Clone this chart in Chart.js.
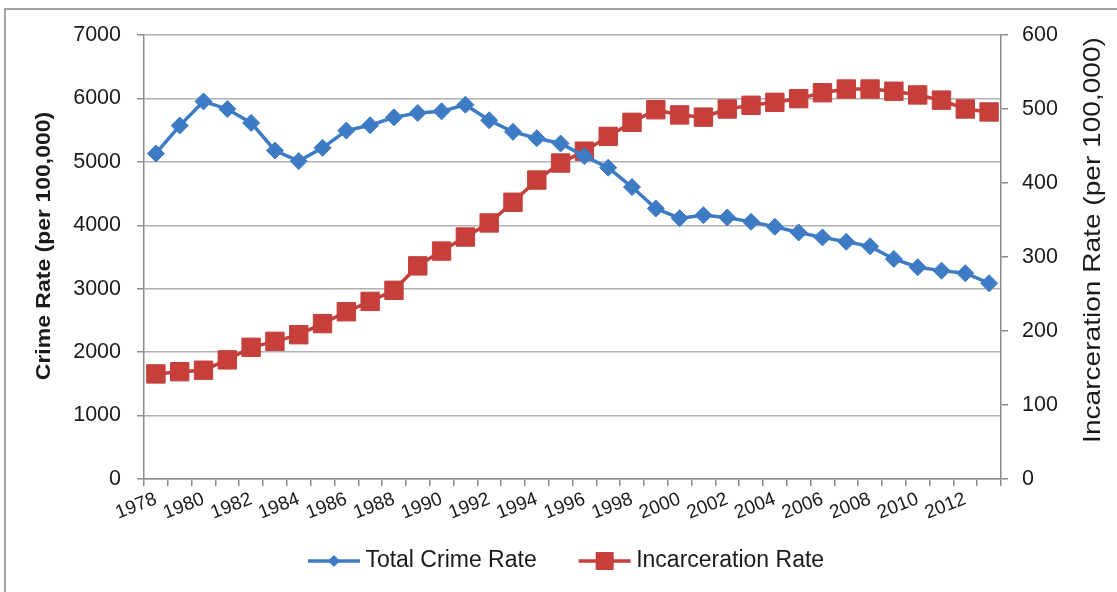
<!DOCTYPE html>
<html>
<head>
<meta charset="utf-8">
<script src="https://cdn.jsdelivr.net/npm/chart.js@4.4.1/dist/chart.umd.min.js"></script>
<style>
  html, body { margin: 0; padding: 0; background: #fff; }
  #wrap { position: relative; width: 1117px; height: 592px; overflow: hidden; }
  #frame { position: absolute; left: 4px; top: 8px; width: 1200px; height: 700px;
           border-left: 2px solid #a3a3a3; border-top: 2px solid #a3a3a3; }
  #chart { position: absolute; left: 0; top: 0; }
</style>
</head>
<body>
<div id="wrap">
  <div id="frame"></div>
  <canvas id="chart" width="1117" height="592"></canvas>
</div>
<script>
// years on the category axis
const years = [];
for (let y = 1978; y <= 2013; y++) years.push(String(y));

// crimes per 100,000 people (left axis)
const crimeRate = [5132, 5572, 5953, 5833, 5614, 5179, 5012, 5221, 5493, 5577,
                   5702, 5770, 5796, 5901, 5655, 5473, 5372, 5289, 5090, 4908,
                   4603, 4264, 4112, 4159, 4123, 4054, 3976, 3887, 3809, 3740,
                   3668, 3469, 3338, 3285, 3244, 3087];

// prisoners per 100,000 people (right axis)
const incarcerationRate = [142, 145, 147, 161, 178, 186, 195, 210, 226, 240,
                           255, 288, 308, 327, 346, 374, 404, 427, 443, 463,
                           482, 499, 492, 489, 500, 505, 509, 514, 522, 527,
                           527, 524, 519, 512, 500, 496];

const seriesNames = ["Total Crime Rate", "Incarceration Rate"];
const leftTitle = "Crime Rate (per 100,000)";
const rightTitle = "Incarceration Rate (per 100,000)";

const blue = "#3d7bc4";
const red = "#c63f3b";
const FONT = '"Liberation Sans", Arial, sans-serif';

// little line+marker pictures for the legend
// (wider than the box so the line sits close to its text)
function legendIcon(color, shape) {
    const c = document.createElement("canvas");
    c.width = 94; c.height = 22;
    const g = c.getContext("2d");
    g.strokeStyle = color;
    g.lineWidth = 3.5;
    g.beginPath();
    g.moveTo(41, 11);
    g.lineTo(93, 11);
    g.stroke();
    g.fillStyle = color;
    const cx = 67, cy = 11;
    if (shape === "diamond") {
        g.beginPath();
        g.moveTo(cx, cy - 6); g.lineTo(cx + 6, cy); g.lineTo(cx, cy + 6); g.lineTo(cx - 6, cy);
        g.closePath();
        g.fill();
    } else {
        g.fillRect(cx - 9, cy - 9, 18, 18);
    }
    return c;
}

// rotated axis titles, both reading bottom to top
const sideTitles = {
    id: "sideTitles",
    afterDraw(chart) {
        const ctx = chart.ctx;
        const area = chart.chartArea;
        const midY = (area.top + area.bottom) / 2 - 11;
        ctx.save();
        ctx.fillStyle = "#1a1a1a";
        ctx.textAlign = "center";
        ctx.textBaseline = "middle";

        ctx.save();
        ctx.translate(chart.scales.y.left + 44, midY);
        ctx.rotate(-Math.PI / 2);
        ctx.scale(1.15, 1);
        ctx.font = "bold 20px " + FONT;
        ctx.fillText(leftTitle, 0, 0);
        ctx.restore();

        ctx.save();
        ctx.translate(chart.scales.y2.left + 92, midY - 6);
        ctx.rotate(-Math.PI / 2);
        ctx.scale(1.17, 1);
        ctx.font = "24px " + FONT;
        ctx.fillText(rightTitle, 0, 0);
        ctx.restore();

        ctx.restore();
    }
};

new Chart(document.getElementById("chart"), {
    type: "line",
    data: {
        labels: years,
        datasets: [
            {
                label: seriesNames[0],
                data: crimeRate,
                yAxisID: "y",
                borderColor: blue,
                backgroundColor: blue,
                borderWidth: 3.5,
                pointStyle: "rectRot",
                pointRadius: 8.5,
                pointBorderWidth: 1,
                pointBackgroundColor: blue,
                pointBorderColor: blue,
                tension: 0
            },
            {
                label: seriesNames[1],
                data: incarcerationRate,
                yAxisID: "y2",
                borderColor: red,
                backgroundColor: red,
                borderWidth: 3.5,
                pointStyle: "rect",
                pointRadius: 13,
                pointBorderWidth: 1,
                pointBackgroundColor: red,
                pointBorderColor: red,
                tension: 0
            }
        ]
    },
    options: {
        responsive: false,
        animation: false,
        devicePixelRatio: 1,
        layout: { padding: { top: 35, left: 0, right: 19, bottom: 9.5 } },
        plugins: {
            tooltip: { enabled: false },
            legend: {
                position: "bottom",
                labels: {
                    usePointStyle: true,
                    pointStyleWidth: 80,
                    padding: 8,
                    color: "#1a1a1a",
                    font: { family: FONT, size: 23 },
                    generateLabels(chart) {
                        return chart.data.datasets.map((ds, i) => ({
                            text: ds.label,
                            pointStyle: legendIcon(ds.borderColor, i === 0 ? "diamond" : "square"),
                            fillStyle: ds.borderColor,
                            strokeStyle: ds.borderColor,
                            lineWidth: 0,
                            fontColor: "#1a1a1a",
                            hidden: false,
                            datasetIndex: i
                        }));
                    }
                }
            }
        },
        scales: {
            x: {
                offset: true,
                grid: { display: true, drawOnChartArea: false, offset: true,
                        color: "#8c8c8c", tickLength: 7, lineWidth: 1.5 },
                border: { color: "#8c8c8c", width: 1.5 },
                ticks: {
                    autoSkip: false,
                    minRotation: 21,
                    maxRotation: 21,
                    padding: 2,
                    color: "#1a1a1a",
                    font: { family: FONT, size: 19 },
                    callback(val, i) { return i % 2 === 0 ? years[i] : ""; }
                },
                afterFit(scale) { scale.height = 62.5; }
            },
            y: {
                position: "left",
                min: 0, max: 7000,
                grid: { color: "#b0b0b0", lineWidth: 1.5, tickLength: 7,
                        tickColor: "#8c8c8c" },
                border: { color: "#8c8c8c", width: 1.5 },
                ticks: {
                    stepSize: 1000,
                    padding: 16,
                    color: "#1a1a1a",
                    font: { family: FONT, size: 21.5 },
                    callback(v) { return String(v); }
                },
                afterFit(scale) { scale.width = 144; }
            },
            y2: {
                position: "right",
                min: 0, max: 600,
                grid: { drawOnChartArea: false, tickLength: 7, color: "#8c8c8c", lineWidth: 1.5 },
                border: { color: "#8c8c8c", width: 1.5 },
                ticks: {
                    stepSize: 100,
                    padding: 14,
                    color: "#1a1a1a",
                    font: { family: FONT, size: 21.5 },
                    callback(v) { return String(v); }
                },
                afterFit(scale) { scale.width = 97; }
            }
        }
    },
    plugins: [sideTitles]
});
</script>
</body>
</html>
